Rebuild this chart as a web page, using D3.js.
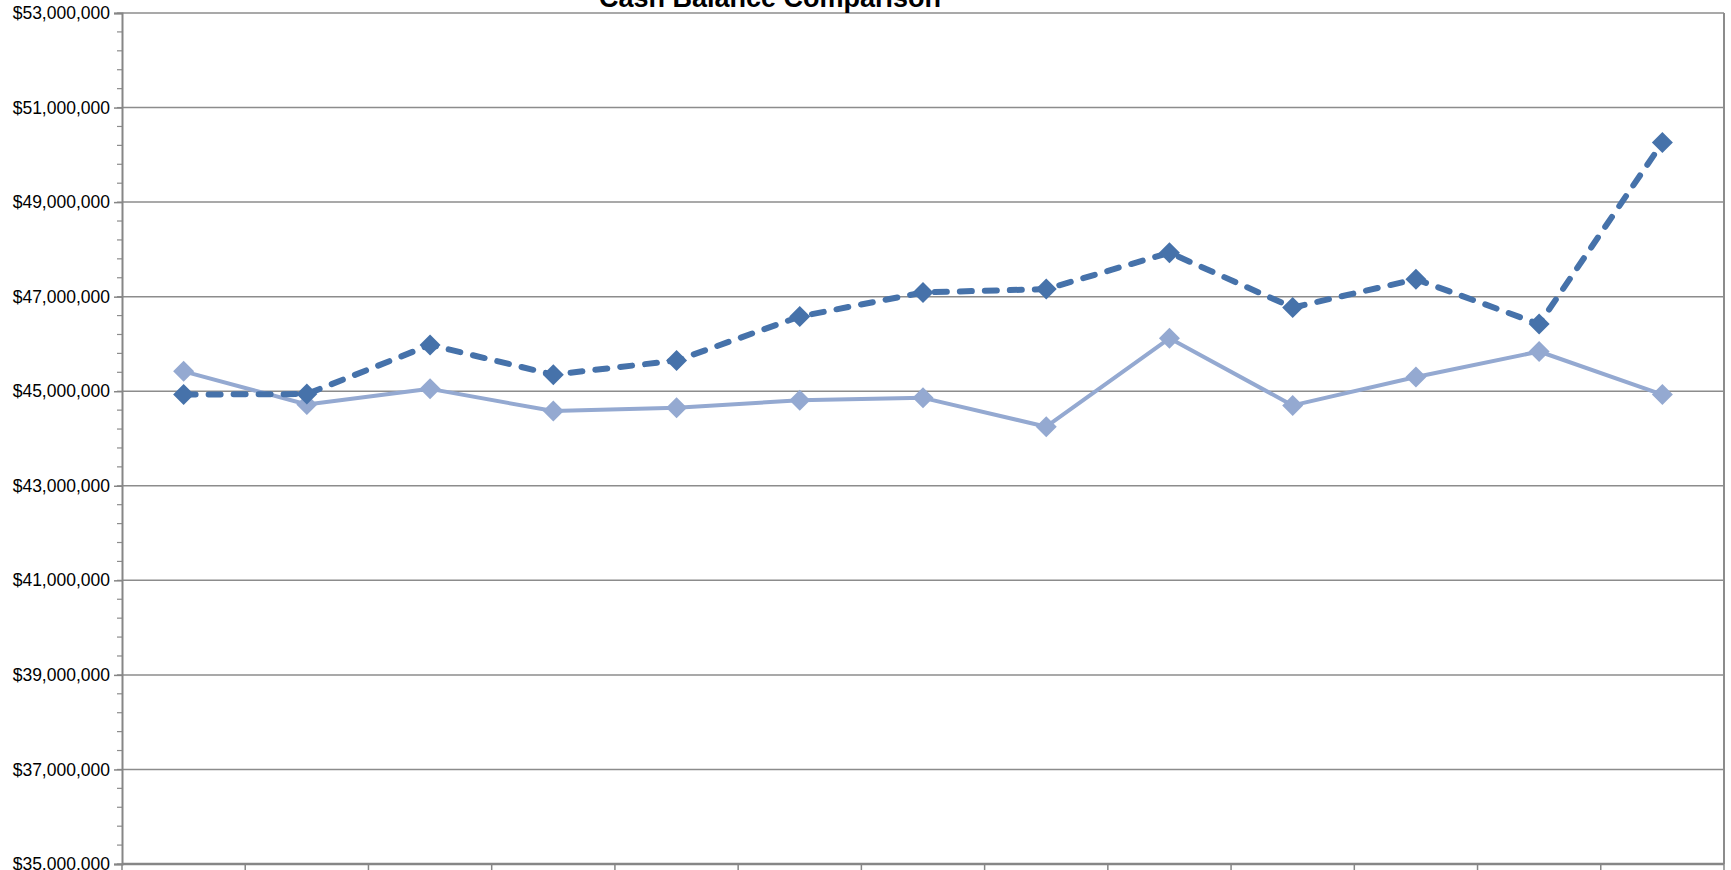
<!DOCTYPE html>
<html lang="en">
  <head>
    <title>Cash Balance Comparison</title>
    <meta charset="utf-8">
    <style>
    body { margin: 0; background: #fff; }
    .tick text { font-family: "Liberation Sans", Arial, sans-serif; font-size: 17.5px; fill: #000; }
    .title { font-family: "Liberation Sans", Arial, sans-serif; font-weight: bold; font-size: 27px; }
    </style>
  </head>
  <body>
  <svg id="chart" width="1731" height="870"></svg>

  <script src="https://cdn.jsdelivr.net/npm/d3@7"></script>
  <script>
    // months / periods (labels cut off in the picture)
    var periods = [1, 2, 3, 4, 5, 6, 7, 8, 9, 10, 11, 12, 13];
    var lightSeries = [45420000, 44720000, 45050000, 44580000, 44650000, 44810000, 44860000,
                       44250000, 46120000, 44700000, 45300000, 45840000, 44930000];
    var darkSeries  = [44930000, 44940000, 45980000, 45350000, 45650000, 46580000, 47090000,
                       47160000, 47930000, 46770000, 47370000, 46420000, 50260000];
    var yTicks = [35000000, 37000000, 39000000, 41000000, 43000000, 45000000,
                  47000000, 49000000, 51000000, 53000000];

    // note: "top" is taken by window.top, so use plot* names
    var plotLeft = 122, plotRight = 1724, plotTop = 13, plotBottom = 864;
    var svg = d3.select("#chart");

    var x = d3.scaleBand().domain(periods).range([plotLeft, plotRight]);
    var y = d3.scaleLinear().domain([35000000, 53000000]).range([plotBottom, plotTop]);

    // gridlines
    svg.append("g").selectAll("line")
      .data(yTicks)
      .enter().append("line")
      .attr("x1", plotLeft).attr("x2", plotRight)
      .attr("y1", function(d) { return y(d); })
      .attr("y2", function(d) { return y(d); })
      .style("stroke", "#8c8c8c")
      .style("stroke-width", 1.5);

    // right border
    svg.append("line")
      .attr("x1", plotRight).attr("x2", plotRight).attr("y1", plotTop).attr("y2", plotBottom)
      .style("stroke", "#8c8c8c").style("stroke-width", 2);

    // minor ticks on y
    var minor = d3.range(35000000, 53000001, 400000);
    svg.append("g").selectAll("line")
      .data(minor)
      .enter().append("line")
      .attr("x1", plotLeft - 5).attr("x2", plotLeft)
      .attr("y1", function(d) { return y(d); })
      .attr("y2", function(d) { return y(d); })
      .style("stroke", "#8c8c8c").style("stroke-width", 1.2);

    var yAxis = svg.append("g")
      .attr("transform", "translate(" + plotLeft + ",0)")
      .call(d3.axisLeft(y).tickValues(yTicks).tickSize(8).tickPadding(4)
        .tickFormat(function(d) { return "$" + d3.format(",")(d); }));
    yAxis.select(".domain").style("stroke", "#868686").style("stroke-width", 2);
    yAxis.selectAll(".tick line").style("stroke", "#868686").style("stroke-width", 1.5);

    // x axis with ticks at band edges
    var xEdges = periods.map(function(p) { return x(p); }).concat([plotRight]);
    svg.append("line")
      .attr("x1", plotLeft).attr("x2", plotRight).attr("y1", plotBottom).attr("y2", plotBottom)
      .style("stroke", "#868686").style("stroke-width", 2.5);
    svg.append("g").selectAll("line")
      .data(xEdges)
      .enter().append("line")
      .attr("x1", function(d) { return d; }).attr("x2", function(d) { return d; })
      .attr("y1", plotBottom).attr("y2", plotBottom + 8)
      .style("stroke", "#868686").style("stroke-width", 1.5);

    var cx = function(d, i) { return x(periods[i]) + x.bandwidth() / 2; };
    var line = d3.line().x(cx).y(function(d) { return y(d); });
    var diamond = "M0,-10.5L10.5,0L0,10.5L-10.5,0Z";

    function drawSeries(values, color, width, dash) {
      svg.append("path")
        .datum(values)
        .attr("d", line)
        .style("fill", "none")
        .style("stroke", color)
        .style("stroke-width", width)
        .style("stroke-linecap", dash ? "round" : "butt")
        .style("stroke-linejoin", "round")
        .style("stroke-dasharray", dash || null);
      svg.append("g").selectAll("path")
        .data(values)
        .enter().append("path")
        .attr("d", diamond)
        .attr("transform", function(d, i) { return "translate(" + cx(d, i) + "," + y(d) + ")"; })
        .style("fill", color);
    }

    drawSeries(lightSeries, "#94a9d1", 4, null);
    drawSeries(darkSeries, "#4672aa", 6, "12,13");

    svg.append("text")
      .attr("class", "title")
      .attr("x", 770).attr("y", 7)
      .attr("text-anchor", "middle")
      .text("Cash Balance Comparison");
  </script>
  </body>
</html>
